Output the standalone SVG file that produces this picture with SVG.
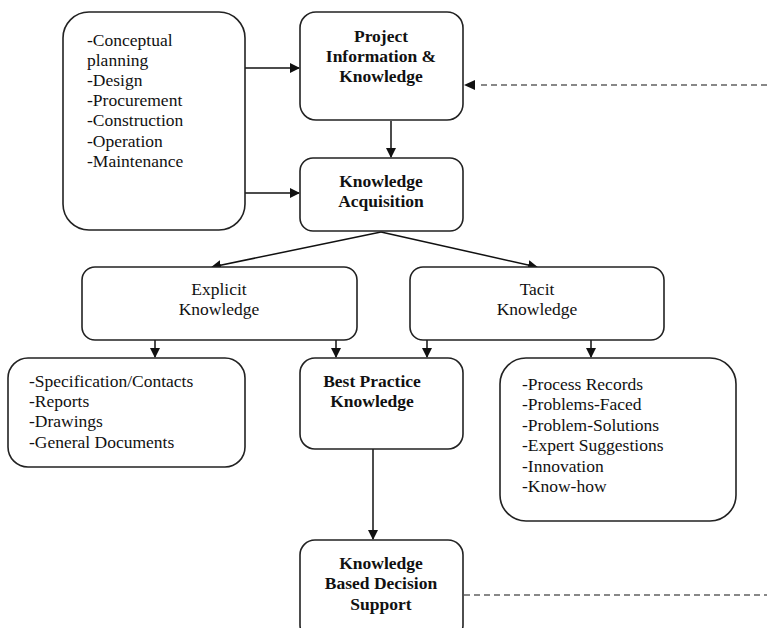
<svg xmlns="http://www.w3.org/2000/svg" width="767" height="628" viewBox="0 0 767 628">
<style>
.box{fill:#fff;stroke:#222;stroke-width:1.6}
.t{font-family:"Liberation Serif","Times New Roman",serif;font-size:17.5px;fill:#111}
.b{font-weight:bold;text-anchor:middle}
.c{text-anchor:middle}
.ln{stroke:#111;stroke-width:1.5;fill:none}
.dash{stroke:#888;stroke-width:2;stroke-dasharray:6 4;fill:none}
</style>
<defs>
<marker id="ah" markerWidth="10" markerHeight="10" refX="9" refY="5" orient="auto" markerUnits="userSpaceOnUse">
<path d="M0,0 L10,5 L0,10 z" fill="#111"/>
</marker>
</defs>
<rect width="767" height="628" fill="#fff"/>
<g id="connectors">
<line class="ln" x1="245" y1="68" x2="299" y2="68" marker-end="url(#ah)"/>
<line class="ln" x1="245" y1="193" x2="299" y2="193" marker-end="url(#ah)"/>
<line class="ln" x1="391" y1="121" x2="391" y2="157" marker-end="url(#ah)"/>
<line class="ln" x1="381" y1="232" x2="212" y2="267" marker-end="url(#ah)"/>
<line class="ln" x1="381" y1="232" x2="537" y2="267" marker-end="url(#ah)"/>
<line class="ln" x1="155" y1="340" x2="155" y2="357" marker-end="url(#ah)"/>
<line class="ln" x1="336" y1="340" x2="336" y2="357" marker-end="url(#ah)"/>
<line class="ln" x1="427" y1="340" x2="427" y2="357" marker-end="url(#ah)"/>
<line class="ln" x1="591" y1="340" x2="591" y2="357" marker-end="url(#ah)"/>
<line class="ln" x1="373" y1="449" x2="373" y2="539" marker-end="url(#ah)"/>
<line class="dash" x1="767" y1="85" x2="478" y2="85"/>
<path d="M464,85 L475,80 L475,90 z" fill="#111"/>
<line class="dash" x1="464" y1="595" x2="767" y2="595"/>
</g>
<g id="phases">
<rect class="box" x="63" y="12" width="182" height="218" rx="26"/>
<text class="t" x="87" y="46">-Conceptual</text>
<text class="t" x="87" y="66">planning</text>
<text class="t" x="87" y="86">-Design</text>
<text class="t" x="87" y="106">-Procurement</text>
<text class="t" x="87" y="126">-Construction</text>
<text class="t" x="87" y="147">-Operation</text>
<text class="t" x="87" y="167">-Maintenance</text>
</g>
<g id="project">
<rect class="box" x="300" y="12" width="163" height="108" rx="16"/>
<text class="t b" x="381" y="42">Project</text>
<text class="t b" x="381" y="62">Information &amp;</text>
<text class="t b" x="381" y="82">Knowledge</text>
</g>
<g id="acquisition">
<rect class="box" x="300" y="158" width="163" height="73" rx="13"/>
<text class="t b" x="381" y="187">Knowledge</text>
<text class="t b" x="381" y="207">Acquisition</text>
</g>
<g id="explicit">
<rect class="box" x="82" y="267" width="275" height="73" rx="13"/>
<text class="t c" x="219" y="295">Explicit</text>
<text class="t c" x="219" y="315">Knowledge</text>
</g>
<g id="tacit">
<rect class="box" x="410" y="267" width="254" height="73" rx="13"/>
<text class="t c" x="537" y="295">Tacit</text>
<text class="t c" x="537" y="315">Knowledge</text>
</g>
<g id="explicit-list">
<rect class="box" x="8" y="358" width="237" height="109" rx="20"/>
<text class="t" x="29" y="387">-Specification/Contacts</text>
<text class="t" x="29" y="407">-Reports</text>
<text class="t" x="29" y="427">-Drawings</text>
<text class="t" x="29" y="448">-General Documents</text>
</g>
<g id="best-practice">
<rect class="box" x="300" y="358" width="163" height="91" rx="15"/>
<text class="t b" x="372" y="387">Best Practice</text>
<text class="t b" x="372" y="407">Knowledge</text>
</g>
<g id="tacit-list">
<rect class="box" x="500" y="358" width="236" height="163" rx="26"/>
<text class="t" x="522" y="390">-Process Records</text>
<text class="t" x="522" y="410">-Problems-Faced</text>
<text class="t" x="522" y="431">-Problem-Solutions</text>
<text class="t" x="522" y="451">-Expert Suggestions</text>
<text class="t" x="522" y="472">-Innovation</text>
<text class="t" x="522" y="492">-Know-how</text>
</g>
<g id="decision">
<rect class="box" x="300" y="540" width="163" height="100" rx="15"/>
<text class="t b" x="381" y="569">Knowledge</text>
<text class="t b" x="381" y="589">Based Decision</text>
<text class="t b" x="381" y="610">Support</text>
</g>
</svg>
